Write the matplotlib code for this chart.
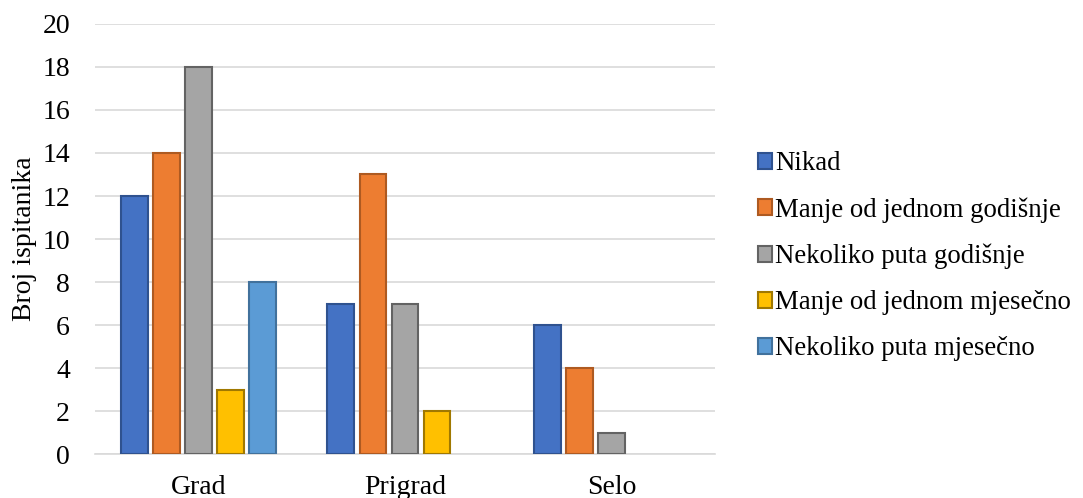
import numpy as np
import matplotlib
matplotlib.use('Agg')
import matplotlib.pyplot as plt

# Categories and series values
categories = ['Grad', 'Prigrad', 'Selo']
series_names = ['Nikad', 'Manje od jednom godišnje', 'Nekoliko puta godišnje',
                'Manje od jednom mjesečno', 'Nekoliko puta mjesečno']
nikad = [12, 7, 6]
manje_god = [14, 13, 4]
nekoliko_god = [18, 7, 1]
manje_mj = [3, 2, 0]
nekoliko_mj = [8, 0, 0]

fills = ['#4472C4', '#ED7D31', '#A5A5A5', '#FFC000', '#5B9BD5']
edges = ['#2F528F', '#AE5A21', '#636363', '#A07800', '#41719C']

plt.rcParams['font.family'] = ['Liberation Serif', 'DejaVu Serif']
FS = 20

fig = plt.figure(figsize=(10.83, 4.98), dpi=100)
ax = fig.add_axes([0.0877, 0.088, 0.5725, 0.864])

x = np.arange(len(categories))
width = 0.13
step = 0.155
all_series = [nikad, manje_god, nekoliko_god, manje_mj, nekoliko_mj]
for i, vals in enumerate(all_series):
    vals = np.array(vals, dtype=float)
    keep = vals > 0  # Excel draws nothing for zero values
    ax.bar(x[keep] + (i - 2) * step, vals[keep], width, color=fills[i],
           edgecolor=edges[i], linewidth=1.5, label=series_names[i], zorder=3)

ax.set_xlim(-0.5, 2.5)
ax.set_ylim(0, 20)
ax.set_yticks(range(0, 21, 2))
ax.set_xticks(x)
ax.set_xticklabels(categories)
ax.grid(axis='y', color='#D9D9D9', linewidth=1.2, zorder=0)
for s in ['top', 'right', 'left']:
    ax.spines[s].set_visible(False)
ax.spines['bottom'].set_color('#D9D9D9')
ax.spines['bottom'].set_linewidth(1.2)
ax.tick_params(axis='both', length=0, labelsize=FS)
ax.tick_params(axis='x', pad=15)
ax.tick_params(axis='y', pad=18)
ax.set_ylabel('Broj ispitanika', fontsize=FS, labelpad=4)

ax.legend(loc='center left', bbox_to_anchor=(1.03, 0.46), frameon=False,
          fontsize=19.3, handlelength=0.55, handleheight=0.55,
          handletextpad=0.1, labelspacing=0.78)

fig.savefig('out.png', dpi=100)
